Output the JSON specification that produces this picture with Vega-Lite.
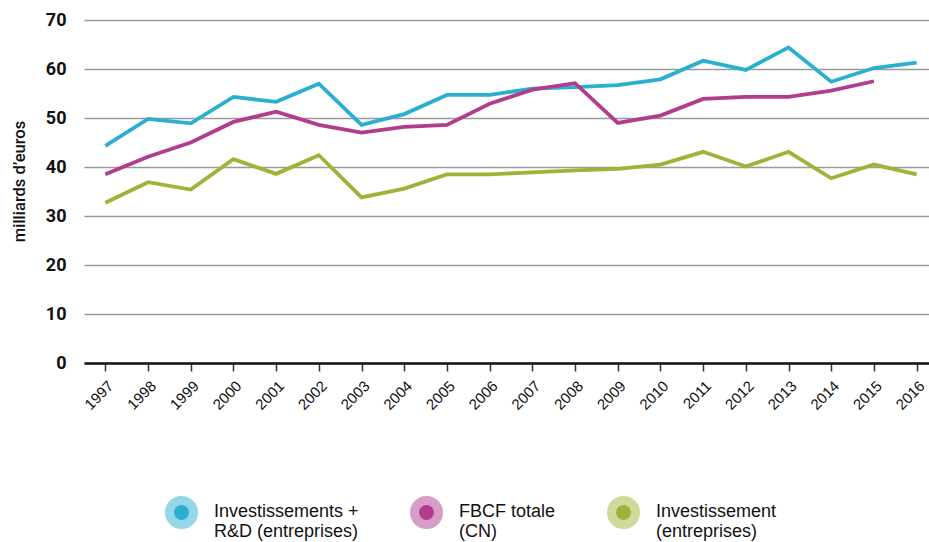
{
  "$schema": "https://vega.github.io/schema/vega-lite/v6.json",
  "autosize": "none",
  "width": 845,
  "height": 343,
  "padding": {"left": 84, "top": 20, "right": 0, "bottom": 179},
  "background": "white",
  "config": {
    "view": {"stroke": null},
    "font": "Liberation Sans"
  },
  "data": {
    "values": [
      {"annee": 1997, "serie": "Investissements + R&D (entreprises)", "valeur": 44.3},
      {"annee": 1998, "serie": "Investissements + R&D (entreprises)", "valeur": 49.8},
      {"annee": 1999, "serie": "Investissements + R&D (entreprises)", "valeur": 48.9},
      {"annee": 2000, "serie": "Investissements + R&D (entreprises)", "valeur": 54.3},
      {"annee": 2001, "serie": "Investissements + R&D (entreprises)", "valeur": 53.3},
      {"annee": 2002, "serie": "Investissements + R&D (entreprises)", "valeur": 57.0},
      {"annee": 2003, "serie": "Investissements + R&D (entreprises)", "valeur": 48.6},
      {"annee": 2004, "serie": "Investissements + R&D (entreprises)", "valeur": 50.8},
      {"annee": 2005, "serie": "Investissements + R&D (entreprises)", "valeur": 54.7},
      {"annee": 2006, "serie": "Investissements + R&D (entreprises)", "valeur": 54.7},
      {"annee": 2007, "serie": "Investissements + R&D (entreprises)", "valeur": 56.0},
      {"annee": 2008, "serie": "Investissements + R&D (entreprises)", "valeur": 56.3},
      {"annee": 2009, "serie": "Investissements + R&D (entreprises)", "valeur": 56.7},
      {"annee": 2010, "serie": "Investissements + R&D (entreprises)", "valeur": 57.9},
      {"annee": 2011, "serie": "Investissements + R&D (entreprises)", "valeur": 61.7},
      {"annee": 2012, "serie": "Investissements + R&D (entreprises)", "valeur": 59.8},
      {"annee": 2013, "serie": "Investissements + R&D (entreprises)", "valeur": 64.4},
      {"annee": 2014, "serie": "Investissements + R&D (entreprises)", "valeur": 57.4},
      {"annee": 2015, "serie": "Investissements + R&D (entreprises)", "valeur": 60.2},
      {"annee": 2016, "serie": "Investissements + R&D (entreprises)", "valeur": 61.3},
      {"annee": 1997, "serie": "FBCF totale (CN)", "valeur": 38.5},
      {"annee": 1998, "serie": "FBCF totale (CN)", "valeur": 42.1},
      {"annee": 1999, "serie": "FBCF totale (CN)", "valeur": 45.0},
      {"annee": 2000, "serie": "FBCF totale (CN)", "valeur": 49.2},
      {"annee": 2001, "serie": "FBCF totale (CN)", "valeur": 51.3},
      {"annee": 2002, "serie": "FBCF totale (CN)", "valeur": 48.6},
      {"annee": 2003, "serie": "FBCF totale (CN)", "valeur": 47.0},
      {"annee": 2004, "serie": "FBCF totale (CN)", "valeur": 48.2},
      {"annee": 2005, "serie": "FBCF totale (CN)", "valeur": 48.6},
      {"annee": 2006, "serie": "FBCF totale (CN)", "valeur": 52.9},
      {"annee": 2007, "serie": "FBCF totale (CN)", "valeur": 55.8},
      {"annee": 2008, "serie": "FBCF totale (CN)", "valeur": 57.1},
      {"annee": 2009, "serie": "FBCF totale (CN)", "valeur": 49.0},
      {"annee": 2010, "serie": "FBCF totale (CN)", "valeur": 50.5},
      {"annee": 2011, "serie": "FBCF totale (CN)", "valeur": 53.9},
      {"annee": 2012, "serie": "FBCF totale (CN)", "valeur": 54.3},
      {"annee": 2013, "serie": "FBCF totale (CN)", "valeur": 54.3},
      {"annee": 2014, "serie": "FBCF totale (CN)", "valeur": 55.6},
      {"annee": 2015, "serie": "FBCF totale (CN)", "valeur": 57.5},
      {"annee": 1997, "serie": "Investissement (entreprises)", "valeur": 32.7},
      {"annee": 1998, "serie": "Investissement (entreprises)", "valeur": 36.9},
      {"annee": 1999, "serie": "Investissement (entreprises)", "valeur": 35.4},
      {"annee": 2000, "serie": "Investissement (entreprises)", "valeur": 41.6},
      {"annee": 2001, "serie": "Investissement (entreprises)", "valeur": 38.6},
      {"annee": 2002, "serie": "Investissement (entreprises)", "valeur": 42.4},
      {"annee": 2003, "serie": "Investissement (entreprises)", "valeur": 33.8},
      {"annee": 2004, "serie": "Investissement (entreprises)", "valeur": 35.6},
      {"annee": 2005, "serie": "Investissement (entreprises)", "valeur": 38.5},
      {"annee": 2006, "serie": "Investissement (entreprises)", "valeur": 38.5},
      {"annee": 2007, "serie": "Investissement (entreprises)", "valeur": 38.9},
      {"annee": 2008, "serie": "Investissement (entreprises)", "valeur": 39.3},
      {"annee": 2009, "serie": "Investissement (entreprises)", "valeur": 39.6},
      {"annee": 2010, "serie": "Investissement (entreprises)", "valeur": 40.5},
      {"annee": 2011, "serie": "Investissement (entreprises)", "valeur": 43.1},
      {"annee": 2012, "serie": "Investissement (entreprises)", "valeur": 40.1},
      {"annee": 2013, "serie": "Investissement (entreprises)", "valeur": 43.1},
      {"annee": 2014, "serie": "Investissement (entreprises)", "valeur": 37.7},
      {"annee": 2015, "serie": "Investissement (entreprises)", "valeur": 40.5},
      {"annee": 2016, "serie": "Investissement (entreprises)", "valeur": 38.5}
    ]
  },
  "mark": {"type": "line", "strokeWidth": 3.8, "strokeJoin": "miter", "clip": false},
  "encoding": {
    "x": {
      "field": "annee",
      "type": "quantitative",
      "scale": {"domain": [1996.5, 2016.29], "nice": false, "zero": false},
      "axis": {
        "values": [1997,1998,1999,2000,2001,2002,2003,2004,2005,2006,2007,2008,2009,2010,2011,2012,2013,2014,2015,2016],
        "format": "d",
        "title": null,
        "grid": false,
        "domainColor": "#111",
        "domainWidth": 2.5,
        "tickColor": "#333",
        "tickWidth": 1.5,
        "tickSize": 8,
        "labelAngle": -45,
        "labelAlign": "right",
        "labelBaseline": "middle",
        "labelFontSize": 15,
        "labelFont": "Liberation Sans",
        "labelColor": "#111",
        "labelPadding": 12,
        "labelOffset": 5
      }
    },
    "y": {
      "field": "valeur",
      "type": "quantitative",
      "scale": {"domain": [0, 70], "nice": false},
      "axis": {
        "values": [0, 10, 20, 30, 40, 50, 60, 70],
        "title": "milliards d’euros",
        "titleFontSize": 16.5,
        "titleFontWeight": 500,
        "titleFont": "Roboto",
        "titleColor": "#111",
        "titlePadding": 18,
        "titleY": 161,
        "domain": false,
        "ticks": false,
        "grid": true,
        "gridColor": "#9a9a9a",
        "gridWidth": 1.5,
        "labelFontSize": 18,
        "labelFontWeight": "bold",
        "labelFont": "Roboto",
        "labelColor": "#111",
        "labelPadding": 18
      }
    },
    "color": {
      "field": "serie",
      "type": "nominal",
      "scale": {
        "domain": ["Investissements + R&D (entreprises)", "FBCF totale (CN)", "Investissement (entreprises)"],
        "range": ["#2ab0cf", "#b23c8e", "#9cb536"]
      },
      "legend": {
        "orient": "none",
        "legendX": 81,
        "legendY": 476,
        "direction": "horizontal",
        "columns": 3,
        "columnPadding": 24,
        "title": null,
        "symbolType": "circle",
        "symbolSize": 225,
        "labelFontSize": 18,
        "labelFont": "Liberation Sans",
        "labelColor": "#111",
        "labelOffset": 16,
        "labelBaseline": "top",
        "labelLimit": 300,
        "labelExpr": "datum.label == 'Investissements + R&D (entreprises)' ? ['Investissements +', 'R&D (entreprises)'] : datum.label == 'FBCF totale (CN)' ? ['FBCF totale', '(CN)'] : ['Investissement', '(entreprises)']",
        "encode": {
          "labels": {
            "update": {
              "dy": {"value": -10}
            }
          },
          "symbols": {
            "update": {
              "fill": {"scale": "color", "field": "value"},
              "stroke": {"scale": "color", "field": "value"},
              "strokeOpacity": {"value": 0.5},
              "fillOpacity": {"value": 1},
              "strokeWidth": {"value": 18},
              "size": {"value": 225}
            }
          }
        }
      }
    }
  }
}
